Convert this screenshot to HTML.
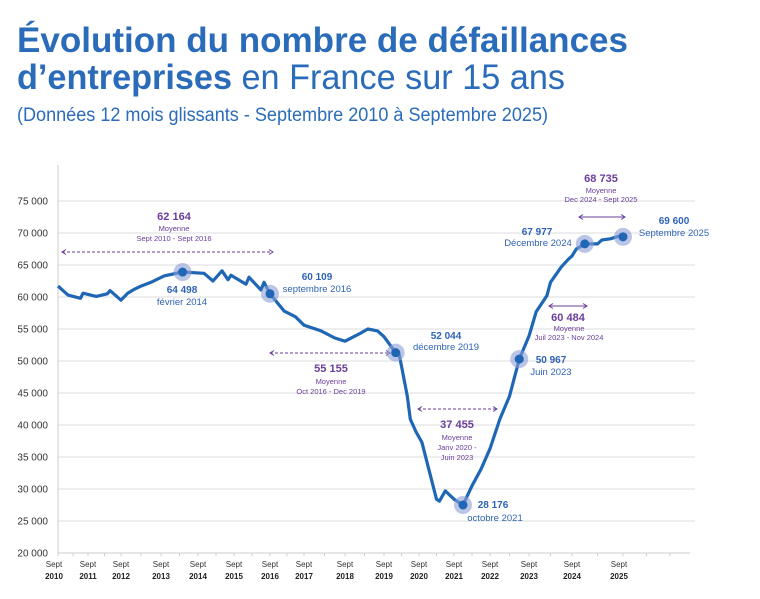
<!DOCTYPE html>
<html><head><meta charset="utf-8"><style>
body{margin:0;background:#fff;}
svg{display:block;font-family:"Liberation Sans",sans-serif;}
</style></head><body>
<svg id="chart" width="760" height="599" viewBox="0 0 760 599">
<text x="17" y="52" font-size="35" font-weight="bold" fill="#2a6cb9" textLength="611" lengthAdjust="spacingAndGlyphs">Évolution du nombre de défaillances</text>
<text x="17" y="89" font-size="35" fill="#2a6cb9" textLength="548" lengthAdjust="spacingAndGlyphs"><tspan font-weight="bold">d’entreprises</tspan> en France sur 15 ans</text>
<text x="17" y="121" font-size="19" fill="#2a6cb9" textLength="531" lengthAdjust="spacingAndGlyphs">(Données 12 mois glissants - Septembre 2010 à Septembre 2025)</text>
<g id="grid"></g><g id="axes"></g><g id="annot"></g><g id="series"></g><g id="marks"></g><g id="labels"></g>
</svg>
<script>
const yTicks=[20000,25000,30000,35000,40000,45000,50000,55000,60000,65000,70000,75000];
const years=[2010,2011,2012,2013,2014,2015,2016,2017,2018,2019,2020,2021,2022,2023,2024,2025];
const months=[0,4,9,10,15,19,20,24,26,28,30,33,37,43,50,53,56,58,59,64,65,69,70,72,77,81,84,89,93,96,101,103,106,108,112,113,114,116,117,119,121,126,127,129,132,135,138,141,144,147,150,153,156,158,161,162,165,167,168,169,171,174,175,177,179,180];
const values=[61700,60300,59800,60600,60100,60500,61000,59500,60600,61200,61700,62300,63300,63900,63700,62500,64100,62700,63400,62000,63100,61100,62300,60500,57800,56900,55600,54700,53600,53100,54400,55000,54700,53800,51300,51400,49200,44500,40900,38900,37300,28400,28100,29700,28400,27500,30500,33100,36300,40900,44500,50300,53900,57700,60200,62300,64700,65900,66400,67500,68300,68300,68900,69100,69500,69400];
const hlMonths=[43,72,112,135,153,171,180];
const hlValues=[63900,60500,51300,27500,50300,68300,69400];
const NS='http://www.w3.org/2000/svg';
const yearPx=[58,88,121,161,198,234,270,304,345,384,419,454,490,529,572,623];
function x(m){const i=Math.min(Math.floor(m/12),14);return yearPx[i]+(m-12*i)/12*(yearPx[i+1]-yearPx[i]);}
function y(v){return 553-(v-20000)*0.0064;}
function mk(tag,attrs,parent,text){const e=document.createElementNS(NS,tag);for(const k in attrs)e.setAttribute(k,attrs[k]);if(text!=null)e.textContent=text;document.getElementById(parent).appendChild(e);return e;}
yTicks.forEach(v=>{
 if(v>20000){const g=mk('line',{x1:58,x2:695,y1:y(v),y2:y(v),stroke:'#e4e4e4','stroke-width':1.2},'grid');
 
 }
 const t=mk('text',{x:48,y:y(v)+3.5,'font-size':10,'text-anchor':'end',fill:'#333'},'axes',String(v).replace(/(\d+)(\d{3})$/,'$1 $2'));
 
 
});
const ya=mk('line',{x1:58,x2:58,y1:165,y2:553,stroke:'#ccc','stroke-width':1},'axes');


const xa=mk('line',{x1:58,x2:690,y1:553,y2:553,stroke:'#ccc','stroke-width':1},'axes');


for(let m=0;m<=192;m+=6){const xx=m<=180?x(m):x(180)+(m-180)/12*47;if(xx>690)break;const tk=mk('line',{x1:xx,x2:xx,y1:553,y2:556,stroke:'#ccc'},'axes');
 
 }
years.forEach((yr,i)=>{const xx=i===0?54:x(i*12)-(i===15?4:0);
 const a=mk('text',{x:xx,y:567,'font-size':8,'text-anchor':'middle',fill:'#333'},'axes','Sept');
 
 
 const b=mk('text',{x:xx,y:579,'font-size':8,'font-weight':'bold','text-anchor':'middle',fill:'#222'},'axes',String(yr));
 
 
});
const d=months.map((m,i)=>(i?'L':'M')+x(m).toFixed(1)+','+y(values[i]).toFixed(1)).join('');
const line=mk('path',{d:d,fill:'none',stroke:'#1f67b5','stroke-width':3.2,'stroke-linejoin':'round'},'series');


hlMonths.forEach((m,i)=>{
 const h=mk('circle',{cx:x(m),cy:y(hlValues[i]),r:9,fill:'#8e9fd6','fill-opacity':0.6},'marks');
 
 
 const c=mk('circle',{cx:x(m),cy:y(hlValues[i]),r:4.5,fill:'#1f67b5'},'marks');
 
 
});
const P='#6a3d9a',B='#2f63b5';
function label(xx,yy,txt,size,bold,col,anchor,name){const t=mk('text',{x:xx,y:yy,'font-size':size,'font-weight':bold?'bold':'normal',fill:col,'text-anchor':anchor||'middle'},'labels',txt);
 
 }
function arrow(x1,x2,yy,dash,name){const l=mk('line',{x1:x1,x2:x2,y1:yy,y2:yy,stroke:P,'stroke-width':1,'stroke-dasharray':dash?'3,2':'none'},'annot');
 
 
 const p=mk('path',{d:`M${x1+4},${yy-2.5}L${x1},${yy}L${x1+4},${yy+2.5}M${x2-4},${yy-2.5}L${x2},${yy}L${x2-4},${yy+2.5}`,fill:'none',stroke:P,'stroke-width':1},'annot');
 
 }
arrow(62,273,252,true,'avg-range-2010-2016');
label(174,220,'62 164',11,true,P,'middle','avg-value-2010-2016');
label(174,231,'Moyenne',7.5,false,P,'middle','avg-caption');
label(174,241,'Sept 2010 - Sept 2016',7.5,false,P,'middle','avg-period');
label(182,293,'64 498',10,true,B,'middle','point-value-feb-2014');
label(182,305,'février 2014',9.5,false,B,'middle','point-date-feb-2014');
label(317,280,'60 109',10,true,B,'middle','point-value-sep-2016');
label(317,292,'septembre 2016',9.5,false,B,'middle','point-date-sep-2016');
arrow(270,390,353,true,'avg-range-2016-2019');
label(331,372,'55 155',11,true,P,'middle','avg-value-2016-2019');
label(331,384,'Moyenne',7.5,false,P,'middle','avg-caption');
label(331,394,'Oct 2016 - Dec 2019',7.5,false,P,'middle','avg-period');
label(446,339,'52 044',10,true,B,'middle','point-value-dec-2019');
label(446,350,'décembre 2019',9.5,false,B,'middle','point-date-dec-2019');
arrow(418,497,409,true,'avg-range-2020-2023');
label(457,428,'37 455',11,true,P,'middle','avg-value-2020-2023');
label(457,440,'Moyenne',7.5,false,P,'middle','avg-caption');
label(457,450,'Janv 2020 -',7.5,false,P,'middle','avg-period');
label(457,460,'Juin 2023',7.5,false,P,'middle','avg-period-2');
label(493,508,'28 176',10,true,B,'middle','point-value-oct-2021');
label(495,521,'octobre 2021',9.5,false,B,'middle','point-date-oct-2021');
label(551,363,'50 967',10,true,B,'middle','point-value-jun-2023');
label(551,375,'Juin 2023',9.5,false,B,'middle','point-date-jun-2023');
arrow(549,587,306,false,'avg-range-2023-2024');
label(568,321,'60 484',11,true,P,'middle','avg-value-2023-2024');
label(569,331,'Moyenne',7.5,false,P,'middle','avg-caption');
label(569,340,'Juil 2023 - Nov 2024',7.5,false,P,'middle','avg-period');
label(537,235,'67 977',10,true,B,'middle','point-value-dec-2024');
label(538,246,'Décembre 2024',9.5,false,B,'middle','point-date-dec-2024');
arrow(579,625,217,false,'avg-range-2024-2025');
label(601,182,'68 735',11,true,P,'middle','avg-value-2024-2025');
label(601,193,'Moyenne',7.5,false,P,'middle','avg-caption');
label(601,202,'Dec 2024 - Sept 2025',7.5,false,P,'middle','avg-period');
label(674,224,'69 600',10,true,B,'middle','point-value-sep-2025');
label(674,236,'Septembre 2025',9.5,false,B,'middle','point-date-sep-2025');
</script>
</body></html>
